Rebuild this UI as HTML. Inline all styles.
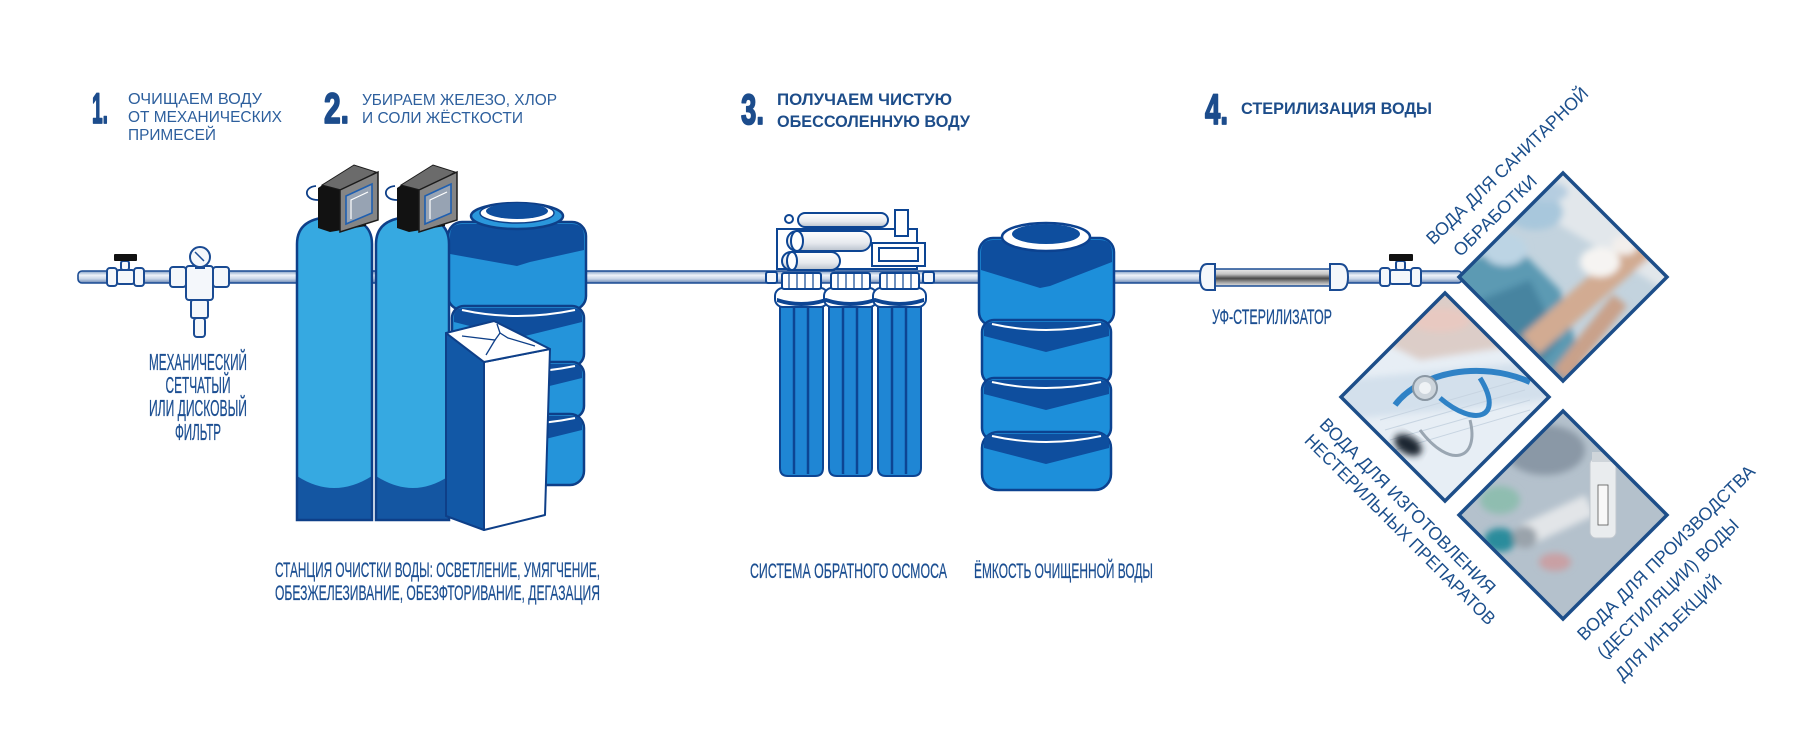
<!DOCTYPE html>
<html><head><meta charset="utf-8">
<style>
html,body{margin:0;padding:0;background:#fff;}
svg{display:block;}
text{font-family:"Liberation Sans","DejaVu Sans",sans-serif;}
.cn{font-family:"Liberation Sans Narrow","Liberation Sans","DejaVu Sans Condensed",sans-serif;}
</style></head><body>
<svg width="1800" height="740" viewBox="0 0 1800 740" xmlns="http://www.w3.org/2000/svg">
<defs>
  <linearGradient id="pipe" x1="0" y1="0" x2="0" y2="1">
    <stop offset="0" stop-color="#7f9cc4"/>
    <stop offset="0.35" stop-color="#eef3f9"/>
    <stop offset="0.65" stop-color="#c9d6e8"/>
    <stop offset="1" stop-color="#6684b3"/>
  </linearGradient>
  <linearGradient id="uv" x1="0" y1="0" x2="0" y2="1">
    <stop offset="0" stop-color="#ececec"/>
    <stop offset="0.3" stop-color="#c4c4c4"/>
    <stop offset="0.55" stop-color="#4a4a4a"/>
    <stop offset="0.78" stop-color="#a0a0a0"/>
    <stop offset="1" stop-color="#e4e4e4"/>
  </linearGradient>
  <linearGradient id="tube" x1="0" y1="0" x2="0" y2="1">
    <stop offset="0" stop-color="#ffffff"/>
    <stop offset="0.6" stop-color="#e6e9ee"/>
    <stop offset="1" stop-color="#b9c2cd"/>
  </linearGradient>
  <filter id="bl" x="-20%" y="-20%" width="140%" height="140%"><feGaussianBlur stdDeviation="3.5"/></filter>
  <clipPath id="c1"><polygon points="1459,277 1563,173 1667,277 1563,381"/></clipPath>
  <clipPath id="c2"><polygon points="1341,397 1445,293 1549,397 1445,501"/></clipPath>
  <clipPath id="c3"><polygon points="1459,515 1563,411 1667,515 1563,619"/></clipPath>
</defs>
<rect width="1800" height="740" fill="#fff"/>

<!-- ===== HEADINGS ===== -->
<g fill="#1c4c8c" stroke="#1c4c8c" stroke-width="1.8" stroke-linejoin="round">
  <text class="cn" x="92" y="123" font-size="43" font-weight="bold" textLength="16" lengthAdjust="spacingAndGlyphs">1.</text>
  <text class="cn" x="324" y="123" font-size="43" font-weight="bold" textLength="25" lengthAdjust="spacingAndGlyphs">2.</text>
  <text class="cn" x="741" y="124" font-size="43" font-weight="bold" textLength="23" lengthAdjust="spacingAndGlyphs">3.</text>
  <text class="cn" x="1205" y="124" font-size="43" font-weight="bold" textLength="23" lengthAdjust="spacingAndGlyphs">4.</text>
</g>
<g fill="#2d5f9d" font-size="16">
  <text x="128" y="104" textLength="134" lengthAdjust="spacingAndGlyphs">ОЧИЩАЕМ ВОДУ</text>
  <text x="128" y="122" textLength="154" lengthAdjust="spacingAndGlyphs">ОТ МЕХАНИЧЕСКИХ</text>
  <text x="128" y="140" textLength="88" lengthAdjust="spacingAndGlyphs">ПРИМЕСЕЙ</text>
  <text x="362" y="105" textLength="195" lengthAdjust="spacingAndGlyphs">УБИРАЕМ ЖЕЛЕЗО, ХЛОР</text>
  <text x="362" y="123" textLength="161" lengthAdjust="spacingAndGlyphs">И СОЛИ ЖЁСТКОСТИ</text>
</g>
<g fill="#1d4d8a" font-size="17" font-weight="bold">
  <text x="777" y="105" textLength="175" lengthAdjust="spacingAndGlyphs">ПОЛУЧАЕМ ЧИСТУЮ</text>
  <text x="777" y="127" textLength="193" lengthAdjust="spacingAndGlyphs">ОБЕССОЛЕННУЮ ВОДУ</text>
  <text x="1241" y="114" textLength="191" lengthAdjust="spacingAndGlyphs">СТЕРИЛИЗАЦИЯ ВОДЫ</text>
</g>

<!-- ===== PIPE ===== -->
<rect x="78" y="271" width="1384" height="12" rx="4" fill="url(#pipe)" stroke="#1a4b93" stroke-width="1.6"/>

<!-- valve 1 -->
<g stroke="#1a4b93" stroke-width="2" fill="#f4f7fb">
  <rect x="107" y="268" width="10" height="18" rx="3"/>
  <rect x="117" y="270" width="17" height="14" rx="2"/>
  <rect x="134" y="268" width="10" height="18" rx="3"/>
  <rect x="121" y="261" width="8" height="9" rx="2"/>
</g>
<rect x="114" y="254" width="23" height="7" rx="1" fill="#111"/>

<!-- mechanical filter -->
<g stroke="#1a4b93" stroke-width="2" fill="#f4f7fb">
  <rect x="170" y="267" width="16" height="20" rx="3"/>
  <rect x="213" y="267" width="16" height="20" rx="3"/>
  <rect x="186" y="266" width="27" height="34" rx="3"/>
  <rect x="191" y="300" width="17" height="18" rx="2"/>
  <rect x="194" y="318" width="11" height="19" rx="3"/>
  <rect x="196" y="262" width="8" height="6"/>
  <circle cx="200" cy="257" r="10"/>
</g>
<line x1="195" y1="252" x2="204" y2="261" stroke="#1a4b93" stroke-width="1.5"/>

<!-- condensed label: filter -->
<g fill="#1c4f92" font-size="23" text-anchor="middle" stroke="#1c4f92" stroke-width="0.3">
  <text class="cn" x="198" y="370" textLength="98" lengthAdjust="spacingAndGlyphs">МЕХАНИЧЕСКИЙ</text>
  <text class="cn" x="198" y="393" textLength="65" lengthAdjust="spacingAndGlyphs">СЕТЧАТЫЙ</text>
  <text class="cn" x="198" y="416" textLength="98" lengthAdjust="spacingAndGlyphs">ИЛИ ДИСКОВЫЙ</text>
  <text class="cn" x="198" y="440" textLength="46" lengthAdjust="spacingAndGlyphs">ФИЛЬТР</text>
</g>

<!-- ===== STAGE 2: big tank ===== -->
<g stroke="#0e3f88" stroke-width="2.5">
  <rect x="448" y="222" width="138" height="88" rx="14" fill="#2494da"/>
  <path d="M450,236 Q450,224 462,224 L572,224 Q584,224 584,236 L584,250 L530,262 L517,266 L450,254 Z" fill="#0f4e9d" stroke="none"/>
  <rect x="452" y="306" width="132" height="60" rx="12" fill="#2494da"/>
  <path d="M454,316 Q454,308 464,308 L572,308 Q582,308 582,316 L582,322 L517,338 L454,322 Z" fill="#0f4e9d" stroke="none"/>
  <rect x="452" y="362" width="132" height="56" rx="12" fill="#2494da"/>
  <path d="M454,372 Q454,364 464,364 L572,364 Q582,364 582,372 L582,378 L517,394 L454,378 Z" fill="#0f4e9d" stroke="none"/>
  <rect x="452" y="414" width="132" height="71" rx="14" fill="#2494da"/>
  <path d="M454,424 Q454,416 464,416 L572,416 Q582,416 582,424 L582,430 L517,446 L454,430 Z" fill="#0f4e9d" stroke="none"/>
  <ellipse cx="517" cy="216" rx="46" ry="13" fill="#2a97dc"/>
  <ellipse cx="517" cy="213" rx="37" ry="10" fill="#ffffff" stroke-width="1.5"/>
  <ellipse cx="517" cy="211" rx="31" ry="8" fill="#0f4e9d" stroke="none"/>
</g>
<g stroke="#fff" stroke-width="2" fill="none">
  <path d="M462,310 Q517,322 575,310"/>
  <path d="M462,366 Q517,378 575,366"/>
  <path d="M462,418 Q517,430 575,418"/>
</g>

<!-- tank 1 -->
<path d="M297,520 L297,244 C297,224 312,217 334,217 C357,217 372,224 372,244 L372,520 Z" fill="#36a9e1"/>
<path d="M297,476 Q334,500 372,476 L372,520 L297,520 Z" fill="#1456a2"/>
<path d="M297,520 L297,244 C297,224 312,217 334,217 C357,217 372,224 372,244 L372,520 Z" fill="none" stroke="#0e3f88" stroke-width="2.5"/>
<!-- tank 2 -->
<path d="M376,520 L376,244 C376,224 391,217 413,217 C436,217 449,224 449,244 L449,520 Z" fill="#36a9e1"/>
<path d="M376,476 Q413,500 449,476 L449,520 L376,520 Z" fill="#1456a2"/>
<path d="M376,520 L376,244 C376,224 391,217 413,217 C436,217 449,224 449,244 L449,520 Z" fill="none" stroke="#0e3f88" stroke-width="2.5"/>

<!-- control heads -->
<g id="head">
  <path d="M318,200 C304,200 303,187 316,186" fill="none" stroke="#0e3f88" stroke-width="1.8"/>
  <polygon points="318,188 352,166 366,172 366,226 330,232 318,228" fill="#121212"/>
  <polygon points="322,185 354,165 376,172 345,191" fill="#6b6b6b" stroke="#1b1b1b" stroke-width="1"/>
  <polygon points="340,190 378,172 378,220 340,232" fill="#858585" stroke="#1b1b1b" stroke-width="1.5"/>
  <polygon points="346,196 372,184 372,213 346,224" fill="#97a3b3" stroke="#1f5fb0" stroke-width="1.6"/>
  <path d="M351,219 L351,200 L368,192" fill="none" stroke="#fff" stroke-width="1.2"/>
</g>
<use href="#head" x="79" y="0"/>

<!-- salt box -->
<g stroke="#0e3f88" stroke-width="2" stroke-linejoin="round">
  <polygon points="446,333 484,362 484,530 446,516" fill="#1258a6"/>
  <polygon points="484,362 550,349 545,515 484,530" fill="#ffffff"/>
  <polygon points="446,333 494,321 550,349 484,362" fill="#ffffff"/>
</g>
<g stroke="#0e3f88" stroke-width="1.3" fill="none">
  <path d="M462,336 L495,340 L500,333 L508,338 L535,346"/>
  <path d="M495,340 L486,355"/>
  <path d="M500,333 L497,324"/>
</g>

<!-- ===== STAGE 3: RO system ===== -->
<g stroke="#0d4593" stroke-width="2">
  <rect x="777" y="229" width="140" height="40" fill="#fff"/>
  <rect x="798" y="213" width="90" height="14" rx="7" fill="url(#tube)"/>
  <rect x="787" y="231" width="84" height="20" rx="10" fill="url(#tube)"/>
  <rect x="782" y="252" width="58" height="18" rx="9" fill="url(#tube)"/>
  <rect x="895" y="210" width="13" height="26" fill="#fff"/>
  <rect x="872" y="243" width="53" height="23" fill="#fff"/>
  <rect x="879" y="248" width="39" height="13" fill="#fff"/>
  <circle cx="789" cy="219" r="4" fill="#fff"/>
  <ellipse cx="797" cy="241" rx="6" ry="10" fill="#fff"/>
  <ellipse cx="792" cy="261" rx="5" ry="9" fill="#fff"/>
</g>
<g stroke="#0d4593" stroke-width="2" fill="#f4f7fb">
  <rect x="766" y="272" width="11" height="11" rx="2"/>
  <rect x="923" y="272" width="11" height="11" rx="2"/>
</g>
<g stroke="#0d4593" stroke-width="2">
  <path d="M780,305 L780,468 Q780,476 788,476 L815,476 Q823,476 823,468 L823,305 Z" fill="#1f86d4"/>
  <path d="M829,305 L829,468 Q829,476 837,476 L864,476 Q872,476 872,468 L872,305 Z" fill="#1f86d4"/>
  <path d="M878,305 L878,468 Q878,476 886,476 L913,476 Q921,476 921,468 L921,305 Z" fill="#1f86d4"/>
</g>
<g stroke="#0d4593" stroke-width="2.5">
  <line x1="794" y1="308" x2="794" y2="474"/><line x1="808" y1="308" x2="808" y2="474"/>
  <line x1="843" y1="308" x2="843" y2="474"/><line x1="857" y1="308" x2="857" y2="474"/>
  <line x1="892" y1="308" x2="892" y2="474"/><line x1="906" y1="308" x2="906" y2="474"/>
</g>
<g stroke="#0d4593" stroke-width="2" fill="#fff">
  <rect x="775" y="288" width="53" height="19" rx="8"/>
  <rect x="824" y="288" width="53" height="19" rx="8"/>
  <rect x="873" y="288" width="53" height="19" rx="8"/>
  <rect x="782" y="273" width="39" height="16" rx="2"/>
  <rect x="831" y="273" width="39" height="16" rx="2"/>
  <rect x="880" y="273" width="39" height="16" rx="2"/>
</g>
<g stroke="#0d4593" stroke-width="1.2">
  <line x1="789" y1="274" x2="789" y2="288"/><line x1="797" y1="274" x2="797" y2="288"/><line x1="805" y1="274" x2="805" y2="288"/><line x1="813" y1="274" x2="813" y2="288"/>
  <line x1="838" y1="274" x2="838" y2="288"/><line x1="846" y1="274" x2="846" y2="288"/><line x1="854" y1="274" x2="854" y2="288"/><line x1="862" y1="274" x2="862" y2="288"/>
  <line x1="887" y1="274" x2="887" y2="288"/><line x1="895" y1="274" x2="895" y2="288"/><line x1="903" y1="274" x2="903" y2="288"/><line x1="911" y1="274" x2="911" y2="288"/>
</g>
<g fill="#0d4593">
  <path d="M777,298 Q801,306 826,298 L826,302 Q801,310 777,302 Z"/>
  <path d="M826,298 Q850,306 875,298 L875,302 Q850,310 826,302 Z"/>
  <path d="M875,298 Q899,306 924,298 L924,302 Q899,310 875,302 Z"/>
</g>

<!-- ===== STAGE 3: storage tank ===== -->
<g stroke="#0c4290" stroke-width="2.5">
  <rect x="979" y="238" width="135" height="88" rx="14" fill="#1d8fda"/>
  <path d="M981,252 Q981,240 993,240 L1100,240 Q1112,240 1112,252 L1112,262 L1050,286 L1040,288 L981,270 Z" fill="#0e4e9e" stroke="none"/>
  <rect x="982" y="320" width="129" height="64" rx="12" fill="#1d8fda"/>
  <path d="M984,330 Q984,322 994,322 L1099,322 Q1109,322 1109,330 L1109,336 L1046,352 L984,336 Z" fill="#0e4e9e" stroke="none"/>
  <rect x="982" y="378" width="129" height="62" rx="12" fill="#1d8fda"/>
  <path d="M984,388 Q984,380 994,380 L1099,380 Q1109,380 1109,388 L1109,394 L1046,410 L984,394 Z" fill="#0e4e9e" stroke="none"/>
  <rect x="982" y="432" width="129" height="58" rx="16" fill="#1d8fda"/>
  <path d="M984,442 Q984,434 994,434 L1099,434 Q1109,434 1109,442 L1109,448 L1046,464 L984,448 Z" fill="#0e4e9e" stroke="none"/>
  <ellipse cx="1046" cy="237" rx="44" ry="14" fill="#fff"/>
  <ellipse cx="1046" cy="234" rx="34" ry="10" fill="#0e4e9e" stroke="none"/>
</g>
<g stroke="#fff" stroke-width="2" fill="none">
  <path d="M992,324 Q1046,336 1101,324"/>
  <path d="M992,382 Q1046,394 1101,382"/>
  <path d="M992,436 Q1046,448 1101,436"/>
</g>

<!-- bottom labels -->
<g fill="#1c4f92" font-size="21" stroke="#1c4f92" stroke-width="0.25">
  <text class="cn" x="275" y="577" textLength="325" lengthAdjust="spacingAndGlyphs">СТАНЦИЯ ОЧИСТКИ ВОДЫ: ОСВЕТЛЕНИЕ, УМЯГЧЕНИЕ,</text>
  <text class="cn" x="275" y="600" textLength="325" lengthAdjust="spacingAndGlyphs">ОБЕЗЖЕЛЕЗИВАНИЕ, ОБЕЗФТОРИВАНИЕ, ДЕГАЗАЦИЯ</text>
  <text class="cn" x="750" y="578" textLength="197" lengthAdjust="spacingAndGlyphs">СИСТЕМА ОБРАТНОГО ОСМОСА</text>
  <text class="cn" x="974" y="578" textLength="179" lengthAdjust="spacingAndGlyphs">ЁМКОСТЬ ОЧИЩЕННОЙ ВОДЫ</text>
  <text class="cn" x="1212" y="324" textLength="120" lengthAdjust="spacingAndGlyphs">УФ-СТЕРИЛИЗАТОР</text>
</g>

<!-- ===== STAGE 4: UV + valve ===== -->
<rect x="1213" y="269" width="117" height="17" fill="url(#uv)" stroke="#1a4b93" stroke-width="1.5"/>
<g stroke="#1a4b93" stroke-width="2" fill="#f4f7fb">
  <path d="M1215,264 L1207,264 Q1200,264 1200,277 Q1200,290 1207,290 L1215,290 Z"/>
  <path d="M1330,264 L1340,264 Q1348,264 1348,277 Q1348,290 1340,290 L1330,290 Z"/>
</g>
<g stroke="#1a4b93" stroke-width="2" fill="#f4f7fb">
  <rect x="1380" y="268" width="10" height="18" rx="3"/>
  <rect x="1390" y="270" width="21" height="14" rx="2"/>
  <rect x="1411" y="268" width="10" height="18" rx="3"/>
  <rect x="1396" y="261" width="9" height="9" rx="2"/>
</g>
<rect x="1389" y="254" width="24" height="7" rx="1" fill="#111"/>

<!-- ===== DIAMOND PHOTOS ===== -->
<g clip-path="url(#c1)">
  <rect x="1455" y="170" width="215" height="215" fill="#c3d3de"/>
  <g filter="url(#bl)">
    <polygon points="1540,165 1680,165 1680,300 1610,255 1560,225" fill="#e2e7eb"/>
    <polygon points="1455,265 1515,245 1560,290 1590,390 1455,390" fill="#5b9ab3"/>
    <polygon points="1480,300 1530,280 1560,340 1520,390 1470,390" fill="#4784a0"/>
    <path d="M1530,345 L1650,240" stroke="#d2ab92" stroke-width="26" fill="none"/>
    <path d="M1560,375 L1620,300" stroke="#c9a18a" stroke-width="18" fill="none"/>
    <ellipse cx="1600" cy="262" rx="20" ry="15" fill="#f6f4f2"/>
    <ellipse cx="1625" cy="245" rx="13" ry="10" fill="#f3efec"/>
    <ellipse cx="1535" cy="212" rx="28" ry="18" fill="#a8c7dc"/>
    <ellipse cx="1548" cy="192" rx="20" ry="10" fill="#b5cde0"/>
    <ellipse cx="1505" cy="250" rx="22" ry="16" fill="#bcd4e4"/>
  </g>
</g>
<polygon points="1459,277 1563,173 1667,277 1563,381" fill="none" stroke="#1d4e89" stroke-width="3.5" stroke-linejoin="miter"/>

<g clip-path="url(#c2)">
  <rect x="1338" y="290" width="215" height="215" fill="#e7eef5"/>
  <g filter="url(#bl)">
    <polygon points="1380,290 1520,290 1520,345 1420,360 1380,340" fill="#dccdc8"/>
    <ellipse cx="1440" cy="320" rx="30" ry="12" fill="#e8c9c1"/>
    <polygon points="1340,380 1550,360 1550,400 1340,420" fill="#d3e0ec"/>
  </g>
  <g stroke="#c7d4e1" stroke-width="1">
    <line x1="1380" y1="420" x2="1520" y2="380"/><line x1="1385" y1="430" x2="1525" y2="390"/>
    <line x1="1390" y1="440" x2="1530" y2="400"/><line x1="1395" y1="450" x2="1530" y2="410"/>
  </g>
  <path d="M1395,405 C1420,372 1480,360 1530,382" stroke="#2f82c6" stroke-width="6" fill="none"/>
  <path d="M1440,398 C1475,428 1505,418 1480,378" stroke="#2f82c6" stroke-width="5" fill="none"/>
  <path d="M1420,430 C1450,470 1480,460 1470,420" stroke="#9aa6b2" stroke-width="3" fill="none"/>
  <circle cx="1425" cy="388" r="12" fill="#cdd5dc" stroke="#8a97a3" stroke-width="2"/>
  <circle cx="1425" cy="388" r="6" fill="#eef2f5"/>
  <ellipse cx="1408" cy="445" rx="15" ry="9" fill="#1a2530" transform="rotate(30 1408 445)" filter="url(#bl)"/>
</g>
<polygon points="1341,397 1445,293 1549,397 1445,501" fill="none" stroke="#1d4e89" stroke-width="3.5"/>

<g clip-path="url(#c3)">
  <rect x="1455" y="408" width="215" height="215" fill="#b4c1cc"/>
  <g filter="url(#bl)">
    <ellipse cx="1545" cy="450" rx="40" ry="25" fill="#8a98a6"/>
    <ellipse cx="1500" cy="500" rx="20" ry="14" fill="#8fbdb0"/>
    <ellipse cx="1500" cy="540" rx="16" ry="12" fill="#2a8c9c"/>
    <ellipse cx="1555" cy="562" rx="16" ry="9" fill="#c9a0a4"/>
    <polygon points="1520,525 1585,495 1595,515 1530,545" fill="#e2e5e8"/>
    <ellipse cx="1525" cy="537" rx="12" ry="11" fill="#9aa3ab"/>
  </g>
  <rect x="1590" y="458" width="26" height="80" rx="6" fill="#e9ecee" stroke="#c1c8cf" stroke-width="1"/>
  <rect x="1598" y="485" width="10" height="40" fill="#f8f8f8" stroke="#555" stroke-width="0.8"/>
  <rect x="1592" y="452" width="22" height="10" fill="#cfd5da"/>
</g>
<polygon points="1459,515 1563,411 1667,515 1563,619" fill="none" stroke="#1d4e89" stroke-width="3.5"/>

<!-- rotated labels -->
<g fill="#1c4f8c" font-size="18">
  <text transform="translate(1429,241) rotate(-44)" dy="0.35em" textLength="217" lengthAdjust="spacingAndGlyphs">ВОДА ДЛЯ САНИТАРНОЙ</text>
  <text transform="translate(1456,253) rotate(-44)" dy="0.35em" textLength="108" lengthAdjust="spacingAndGlyphs">ОБРАБОТКИ</text>
  <text transform="translate(1323,421) rotate(45)" dy="0.35em" textLength="240" lengthAdjust="spacingAndGlyphs">ВОДА ДЛЯ ИЗГОТОВЛЕНИЯ</text>
  <text transform="translate(1308,437) rotate(45)" dy="0.35em" textLength="261" lengthAdjust="spacingAndGlyphs">НЕСТЕРИЛЬНЫХ ПРЕПАРАТОВ</text>
  <text transform="translate(1580,637) rotate(-44.5)" dy="0.35em" textLength="241" lengthAdjust="spacingAndGlyphs">ВОДА ДЛЯ ПРОИЗВОДСТВА</text>
  <text transform="translate(1600,655) rotate(-44.5)" dy="0.35em" textLength="190" lengthAdjust="spacingAndGlyphs">(ДЕСТИЛЯЦИИ) ВОДЫ</text>
  <text transform="translate(1618,677) rotate(-44.5)" dy="0.35em" textLength="141" lengthAdjust="spacingAndGlyphs">ДЛЯ ИНЪЕКЦИЙ</text>
</g>
</svg>
</body></html>
